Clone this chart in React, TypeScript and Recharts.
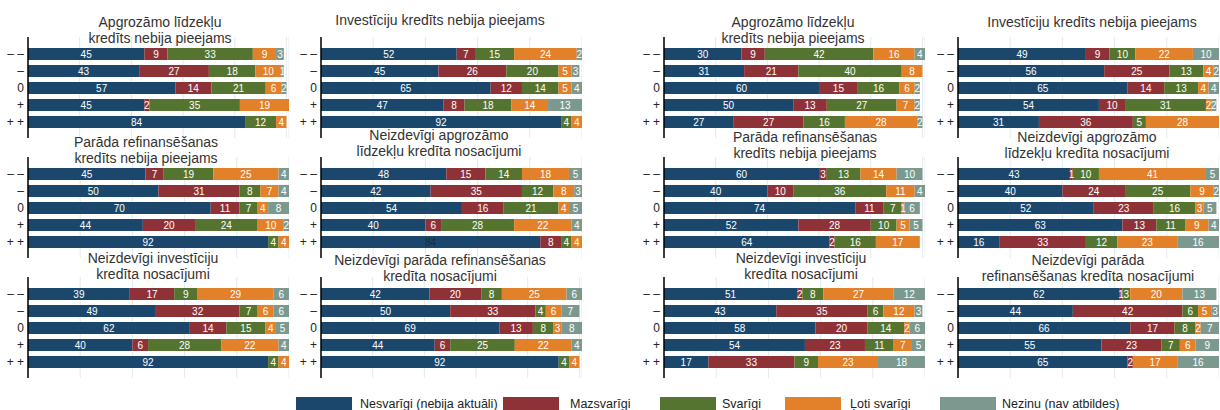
import React from 'react';
import { BarChart, Bar, XAxis, YAxis, CartesianGrid, LabelList } from 'recharts';

// row labels (answer scale) and series
const categories = ['– –', '–', '0', '+', '+ +'];
const seriesNames = ['Nesvarīgi (nebija aktuāli)', 'Mazsvarīgi', 'Svarīgi', 'Ļoti svarīgi', 'Nezinu (nav atbildes)'];
const seriesColors = ['#1b476c', '#8f3238', '#54742f', '#e3802a', '#7b998f'];

// left block
const leftWorkingCapital = [[45, 9, 33, 9, 3], [43, 27, 18, 10, 1], [57, 14, 21, 6, 2], [45, 2, 35, 19, 0], [84, 0, 12, 4, 0]];
const leftInvestment = [[52, 7, 15, 24, 2], [45, 26, 20, 5, 3], [65, 12, 14, 5, 4], [47, 8, 18, 14, 13], [92, 0, 4, 4, 0]];
const leftRefinancing = [[45, 7, 19, 25, 4], [50, 31, 8, 7, 4], [70, 11, 7, 4, 8], [44, 20, 24, 10, 2], [92, 0, 4, 4, 0]];
const leftBadWorkingCapital = [[48, 15, 14, 18, 5], [42, 35, 12, 8, 3], [54, 16, 21, 4, 5], [40, 6, 28, 22, 4], [84, 8, 4, 4, 0]];
const leftBadInvestment = [[39, 17, 9, 29, 6], [49, 32, 7, 6, 6], [62, 14, 15, 4, 5], [40, 6, 28, 22, 4], [92, 0, 4, 4, 0]];
const leftBadRefinancing = [[42, 20, 8, 25, 6], [50, 33, 4, 6, 7], [69, 13, 8, 3, 8], [44, 6, 25, 22, 4], [92, 0, 4, 4, 0]];

// right block
const rightWorkingCapital = [[30, 9, 42, 16, 4], [31, 21, 40, 8, 0], [60, 15, 16, 6, 2], [50, 13, 27, 7, 2], [27, 27, 16, 28, 2]];
const rightInvestment = [[49, 9, 10, 22, 10], [56, 25, 13, 4, 2], [65, 14, 13, 4, 4], [54, 10, 31, 2, 2], [31, 36, 5, 28, 0]];
const rightRefinancing = [[60, 3, 13, 14, 10], [40, 10, 36, 11, 4], [74, 11, 7, 1, 6], [52, 28, 10, 5, 5], [64, 2, 16, 17, 0]];
const rightBadWorkingCapital = [[43, 1, 10, 41, 5], [40, 24, 25, 9, 2], [52, 23, 16, 3, 5], [63, 13, 11, 9, 4], [16, 33, 12, 23, 16]];
const rightBadInvestment = [[51, 2, 8, 27, 12], [43, 35, 6, 12, 3], [58, 20, 14, 2, 6], [54, 23, 11, 7, 5], [17, 33, 9, 23, 18]];
const rightBadRefinancing = [[62, 1, 3, 20, 13], [44, 42, 6, 5, 3], [66, 17, 8, 2, 7], [55, 23, 7, 6, 9], [65, 2, 0, 17, 16]];

const titleWorkingCapital = ['Apgrozāmo līdzekļu', 'kredīts nebija pieejams'];
const titleInvestment = ['Investīciju kredīts nebija pieejams'];
const titleRefinancing = ['Parāda refinansēšanas', 'kredīts nebija pieejams'];
const titleBadWorkingCapital = ['Neizdevīgi apgrozāmo', 'līdzekļu kredīta nosacījumi'];
const titleBadInvestment = ['Neizdevīgi investīciju', 'kredīta nosacījumi'];
const titleBadRefinancingLeft = ['Neizdevīgi parāda refinansēšanas', 'kredīta nosacījumi'];
const titleBadRefinancingRight = ['Neizdevīgi parāda', 'refinansēšanas kredīta nosacījumi'];

const FONT = '"Liberation Sans", Arial, sans-serif';
const AXIS_W = 28;
const PLOT_W = 261;
const PLOT_H = 101;

const panels = [
  { values: leftWorkingCapital, title: titleWorkingCapital, axisX: 28, top: 37, titleX: 160, titleTop: 14 },
  { values: leftInvestment, title: titleInvestment, axisX: 321, top: 37, titleX: 440, titleTop: 12 },
  { values: leftRefinancing, title: titleRefinancing, axisX: 28, top: 157, titleX: 146, titleTop: 134 },
  { values: leftBadWorkingCapital, title: titleBadWorkingCapital, axisX: 321, top: 157, titleX: 439, titleTop: 127, dark: 4 },
  { values: leftBadInvestment, title: titleBadInvestment, axisX: 28, top: 277, titleX: 153, titleTop: 250 },
  { values: leftBadRefinancing, title: titleBadRefinancingLeft, axisX: 321, top: 277, titleX: 440, titleTop: 252 },
  { values: rightWorkingCapital, title: titleWorkingCapital, axisX: 664, top: 37, titleX: 793, titleTop: 14 },
  { values: rightInvestment, title: titleInvestment, axisX: 958, top: 37, titleX: 1092, titleTop: 14 },
  { values: rightRefinancing, title: titleRefinancing, axisX: 664, top: 157, titleX: 805, titleTop: 129 },
  { values: rightBadWorkingCapital, title: titleBadWorkingCapital, axisX: 958, top: 157, titleX: 1087, titleTop: 129 },
  { values: rightBadInvestment, title: titleBadInvestment, axisX: 664, top: 277, titleX: 801, titleTop: 250 },
  { values: rightBadRefinancing, title: titleBadRefinancingRight, axisX: 958, top: 277, titleX: 1088, titleTop: 252 },
];

// legend swatch x and text x
const legendLayout = [
  { box: 296, text: 360 },
  { box: 503, text: 570 },
  { box: 660, text: 722 },
  { box: 785, text: 850 },
  { box: 940, text: 1002 },
];

const Panel = ({ p }: { p: any }) => {
  const data = categories.map((c, i) => {
    const row: any = { cat: c };
    p.values[i].forEach((v: number, k: number) => (row['s' + k] = v));
    return row;
  });

  const renderLabel = (k: number) => (props: any) => {
    const { x, y, width, height, value, index } = props;
    if (!value) return null;
    const dark = p.dark === index && k === 0;
    return (
      <text x={x + width / 2} y={y + height / 2} dy="0.35em" textAnchor="middle"
        fontSize={10} fontFamily={FONT} fill={dark ? '#1e2a36' : '#fff'}>
        {value}
      </text>
    );
  };

  return (
    <div style={{ position: 'absolute', left: p.axisX - AXIS_W, top: p.top }}>
      <BarChart layout="vertical" width={AXIS_W + PLOT_W} height={PLOT_H} data={data}
        margin={{ top: 0, right: 0, bottom: 0, left: 0 }} barSize={12}>
        <CartesianGrid horizontal={false} stroke="#e3e9ee" />
        <XAxis type="number" domain={[0, 100]} ticks={[0, 20, 40, 60, 80, 100]} hide />
        <YAxis type="category" dataKey="cat" width={AXIS_W} interval={0}
          axisLine={{ stroke: '#000', strokeWidth: 1.5 }} tickLine={false} tickSize={2} tickMargin={2}
          padding={{ top: 8, bottom: 8 }}
          tick={{ fontSize: 12, fill: '#222', fontFamily: FONT }} />
        {seriesNames.map((n, k) => (
          <Bar key={n} dataKey={'s' + k} name={n} stackId="a" fill={seriesColors[k]} isAnimationActive={false}>
            <LabelList dataKey={'s' + k} content={renderLabel(k)} />
          </Bar>
        ))}
      </BarChart>
    </div>
  );
};

export default function App() {
  return (
    <div style={{ position: 'absolute', left: 0, top: 0, width: 1220, height: 410, background: '#fff', fontFamily: FONT, overflow: 'hidden' }}>
      {panels.map((p, i) => (
        <React.Fragment key={i}>
          <Panel p={p} />
          <div style={{ position: 'absolute', left: p.titleX - 160, top: p.titleTop, width: 320, textAlign: 'center',
            fontSize: 14, lineHeight: '16px', color: '#333', pointerEvents: 'none' }}>
            {p.title.map((t: string) => <div key={t}>{t}</div>)}
          </div>
        </React.Fragment>
      ))}
      {seriesNames.map((n, k) => (
        <React.Fragment key={n}>
          <div style={{ position: 'absolute', left: legendLayout[k].box, top: 397, width: 56, height: 13, background: seriesColors[k] }} />
          <div style={{ position: 'absolute', left: legendLayout[k].text, top: 397, fontSize: 12.5, lineHeight: '14px', color: '#222', whiteSpace: 'nowrap' }}>{n}</div>
        </React.Fragment>
      ))}
    </div>
  );
}
